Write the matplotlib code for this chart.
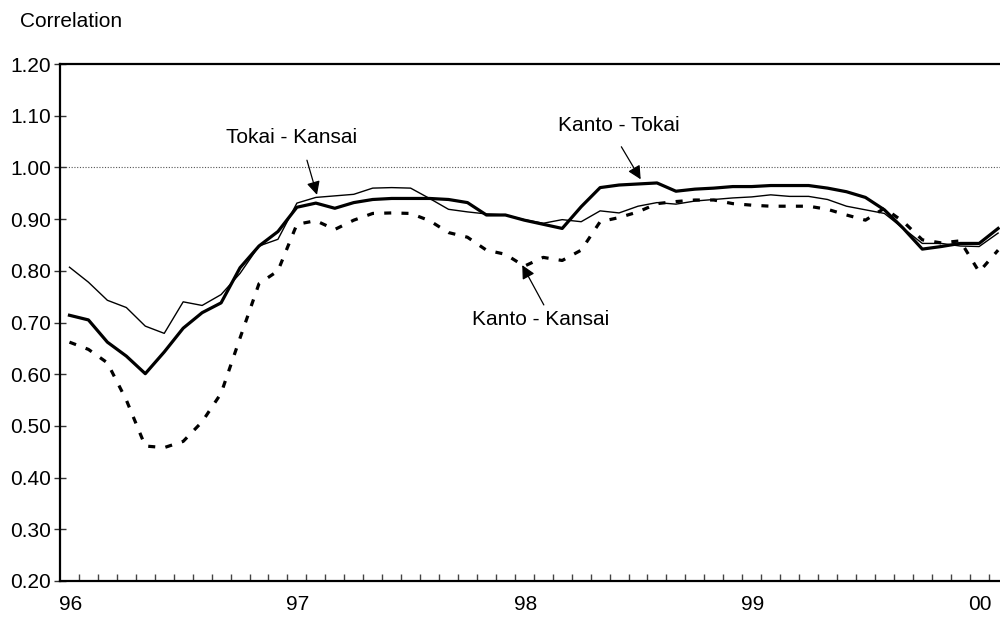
import numpy as np
import matplotlib
matplotlib.use("Agg")
import matplotlib.pyplot as plt

plt.rcParams['font.family'] = ['Liberation Sans', 'DejaVu Sans']

year_labels = ["96", "97", "98", "99", "00"]

kanto_tokai = [0.714, 0.705, 0.662, 0.635, 0.601, 0.643, 0.689, 0.719, 0.738, 0.806,
               0.848, 0.876, 0.923, 0.931, 0.921, 0.932, 0.938, 0.940, 0.940, 0.940,
               0.938, 0.932, 0.908, 0.908, 0.898, 0.890, 0.882, 0.924, 0.961, 0.966,
               0.968, 0.970, 0.954, 0.958, 0.960, 0.963, 0.963, 0.965, 0.965, 0.965,
               0.960, 0.953, 0.942, 0.918, 0.882, 0.842, 0.847, 0.853, 0.853, 0.882]

tokai_kansai = [0.807, 0.778, 0.743, 0.729, 0.693, 0.679, 0.740, 0.733, 0.754, 0.795,
                0.848, 0.861, 0.931, 0.942, 0.945, 0.948, 0.960, 0.961, 0.960, 0.940,
                0.919, 0.914, 0.910, 0.908, 0.899, 0.892, 0.899, 0.895, 0.916, 0.912,
                0.925, 0.932, 0.929, 0.935, 0.938, 0.941, 0.943, 0.947, 0.944, 0.944,
                0.938, 0.925, 0.918, 0.911, 0.882, 0.853, 0.853, 0.848, 0.847, 0.873]

kanto_kansai = [0.662, 0.648, 0.622, 0.550, 0.461, 0.458, 0.470, 0.508, 0.563, 0.670,
                0.775, 0.800, 0.890, 0.897, 0.880, 0.898, 0.911, 0.912, 0.911, 0.897,
                0.874, 0.865, 0.840, 0.832, 0.809, 0.826, 0.820, 0.840, 0.895, 0.903,
                0.914, 0.930, 0.934, 0.937, 0.937, 0.930, 0.927, 0.925, 0.925, 0.925,
                0.919, 0.908, 0.898, 0.921, 0.895, 0.860, 0.854, 0.858, 0.798, 0.840]

n = len(kanto_tokai)
x = np.arange(n) + 0.5  # mid-month positions

fig = plt.figure(figsize=(10, 6.22), dpi=100)
ax = fig.add_axes([0.060, 0.066, 0.940, 0.831])

ax.axhline(1.0, color='#555555', lw=0.8, ls=(0, (1, 1.5)), zorder=1)

ax.plot(x, tokai_kansai, color='black', lw=1.0, zorder=3)
ax.plot(x, kanto_tokai, color='black', lw=2.3, zorder=4)
ax.plot(x, kanto_kansai, color='black', lw=2.3, ls=(0, (2.2, 3.2)), zorder=2)

ax.set_xlim(0, 49.6)
ax.set_ylim(0.2, 1.2)

ax.set_yticks(np.arange(0.2, 1.201, 0.1))
ax.set_yticklabels([f"{v:.2f}" for v in np.arange(0.2, 1.201, 0.1)])
ax.tick_params(axis='y', direction='inout', length=9, width=1.0, pad=2,
               labelsize=15, color='#333333')

ax.set_xticks([12 * i + 0.55 for i in range(len(year_labels))])
ax.set_xticklabels(year_labels)
ax.tick_params(axis='x', which='major', length=0, pad=10, labelsize=15)
ax.set_xticks(np.arange(1, 50), minor=True)
ax.tick_params(axis='x', which='minor', direction='in', length=5, width=1.0, color='#444444')

for side in ['left', 'bottom', 'top']:
    ax.spines[side].set_linewidth(1.6)
ax.spines['right'].set_visible(False)

fig.text(0.020, 0.966, "Correlation", fontsize=15, ha='left', va='center')

arrow = dict(arrowstyle='-|>', color='black', lw=0.9, mutation_scale=20,
             shrinkA=0, shrinkB=0)
ax.text(12.2, 1.057, "Tokai - Kansai", fontsize=15, ha='center', va='center')
ax.annotate("", xy=(13.56, 0.947), xytext=(13.03, 1.014), arrowprops=arrow)
ax.text(29.48, 1.082, "Kanto - Tokai", fontsize=15, ha='center', va='center')
ax.annotate("", xy=(30.64, 0.977), xytext=(29.62, 1.040), arrowprops=arrow)
ax.text(25.36, 0.705, "Kanto - Kansai", fontsize=15, ha='center', va='center')
ax.annotate("", xy=(24.39, 0.811), xytext=(25.53, 0.734), arrowprops=arrow)

fig.savefig("out.png", dpi=100)
